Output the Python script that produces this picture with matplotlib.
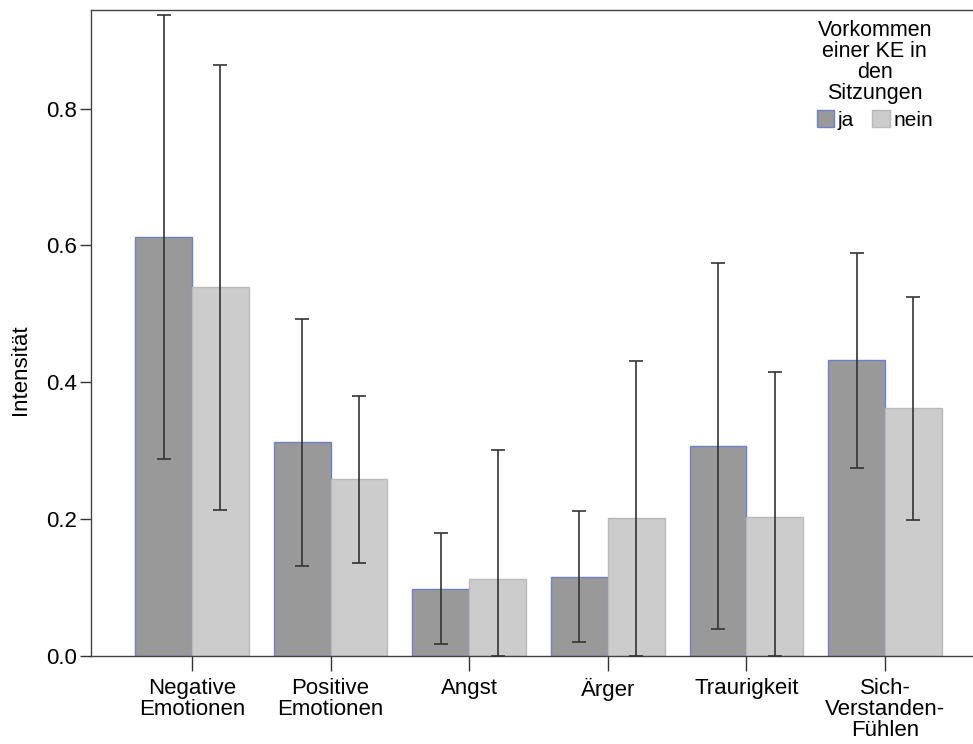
import matplotlib
matplotlib.use("Agg")
import matplotlib.pyplot as plt
import numpy as np
from matplotlib.patches import Patch

plt.rcParams['font.family'] = ['Liberation Sans', 'DejaVu Sans']

categories = ["Negative\nEmotionen", "Positive\nEmotionen", "Angst", "Ärger",
              "Traurigkeit", "Sich-\nVerstanden-\nFühlen"]
ja_mean = [0.612, 0.312, 0.098, 0.116, 0.307, 0.432]
ja_err = [0.324, 0.180, 0.081, 0.096, 0.267, 0.157]
nein_mean = [0.539, 0.258, 0.113, 0.202, 0.203, 0.362]
nein_err = [0.325, 0.122, 0.188, 0.229, 0.212, 0.163]
yticks = [0.0, 0.2, 0.4, 0.6, 0.8]

fig = plt.figure(figsize=(9.73, 7.44), dpi=100)
ax = fig.add_axes([0.0935, 0.1183, 0.9055, 0.8683])

x = np.arange(len(categories))
w = 0.41
ja_c, nein_c = "#999999", "#cccccc"

ax.bar(x - w / 2, ja_mean, w, color=ja_c, edgecolor="#6f80c4", linewidth=1.0, zorder=2)
ax.bar(x + w / 2, nein_mean, w, color=nein_c, edgecolor="#b9b9b9", linewidth=1.0, zorder=2)

def draw_err(xs, m, e):
    m = np.array(m)
    e = np.array(e)
    lower = np.minimum(e, m)  # intervals are cut off at zero
    ax.errorbar(xs, m, yerr=[lower, e], fmt="none", ecolor="#333333",
                elinewidth=1.2, capsize=5, capthick=1.2, zorder=3)

draw_err(x - w / 2, ja_mean, ja_err)
draw_err(x + w / 2, nein_mean, nein_err)

ax.set_xlim(-0.729, 5.628)
ax.set_ylim(0, 0.944)
ax.set_yticks(yticks)
ax.set_yticklabels([f"{v:.1f}" for v in yticks])
ax.set_xticks(x)
ax.set_xticklabels(categories)
for t in ax.get_xticklabels():
    t.set_linespacing(1.0)

ax.tick_params(axis="both", labelsize=16, colors="#333333", labelcolor="black")
ax.tick_params(axis="y", length=8, width=1, pad=2)
ax.tick_params(axis="x", length=11, width=1, pad=5)

for s in ["left", "bottom", "top"]:
    ax.spines[s].set_color("#444444")
    ax.spines[s].set_linewidth(1.0)
ax.spines["right"].set_visible(False)

ax.set_ylabel("Intensität", fontsize=16)
ax.yaxis.set_label_coords(-0.068, 0.443)

handles = [Patch(facecolor=ja_c, edgecolor="#6f80c4", label="ja"),
           Patch(facecolor=nein_c, edgecolor="#b9b9b9", label="nein")]
leg = fig.legend(handles=handles, title="Vorkommen\neiner KE in\nden\nSitzungen",
                 loc="upper center", bbox_to_anchor=(0.899, 0.993), ncol=2,
                 frameon=False, fontsize=15, title_fontsize=15.5,
                 handlelength=0.85, handleheight=0.85, handletextpad=0.15,
                 columnspacing=0.9, borderpad=0.2, labelspacing=0.3)
leg.get_title().set_multialignment("center")
leg.get_title().set_linespacing(1.0)

fig.savefig("out.png", dpi=100)
